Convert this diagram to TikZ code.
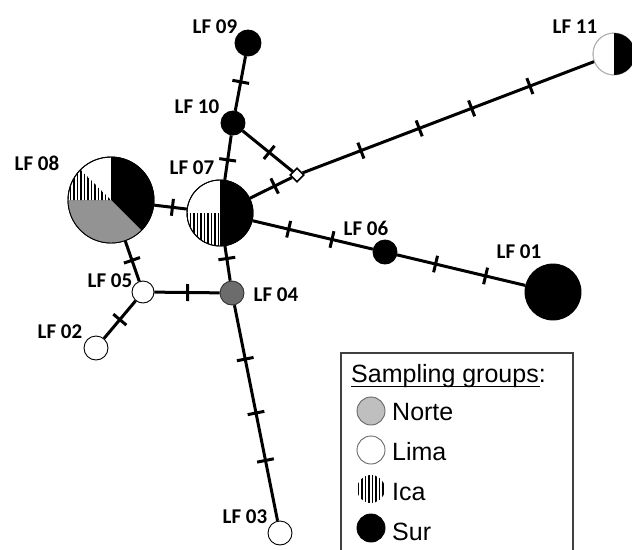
\documentclass[tikz,border=0pt]{standalone}
\usepackage{fontspec}
\setmainfont{Liberation Sans}
\newfontfamily\lblfont{Carlito}
\usetikzlibrary{shapes.geometric}
\begin{document}
\begin{tikzpicture}[x=1pt,y=-1pt,
  hap/.style={circle, draw=black, line width=0.9pt, inner sep=0pt, minimum size=#1},
  lbl/.style={font=\lblfont\bfseries\fontsize{21}{24}\selectfont, inner sep=0pt},
  edge/.style={line width=3pt},
  tk/.style={sloped, rectangle, fill=black, draw=none, inner sep=0pt, minimum width=3pt, minimum height=17pt},
  leg/.style={font=\fontsize{25}{30}\selectfont, inner sep=0pt, anchor=base west},
  hatch/.style={line width=1.3pt}
]
\useasboundingbox (0,0) rectangle (632,549);

% haplotype nodes
\node[hap=26pt, fill=black] (lf09) at (248,43) {};
\node[hap=24pt, fill=black] (lf10) at (233,123) {};
\node[hap=66pt, fill=white] (lf07) at (220,213) {};
\node[hap=86pt, fill=white] (lf08) at (111,200) {};
\node[hap=22pt, fill=white] (lf05) at (143,292) {};
\node[hap=24pt, fill=gray!85!black, draw=gray!40!black] (lf04) at (232,293) {};
\node[hap=24pt, fill=white] (lf02) at (96,348) {};
\node[hap=24pt, fill=white] (lf03) at (280,533) {};
\node[hap=24pt, fill=black] (lf06) at (385,252) {};
\node[hap=56pt, fill=black] (lf01) at (553,292) {};
\node[hap=42pt, fill=white, draw=gray!60] (lf11) at (614,54) {};
\node[diamond, draw=black, fill=white, line width=1.6pt, inner sep=0pt, minimum size=14pt] (mv) at (297,175) {};

% LF 08 pie
\begin{scope}[shift={(111,200)}]
  \fill[black] (0,0) -- (-90:43) arc[start angle=-90, end angle=45, radius=43] -- cycle;
  \fill[gray!85] (0,0) -- (45:43) arc[start angle=45, end angle=180, radius=43] -- cycle;
  \begin{scope}
    \clip (0,0) -- (180:43) arc[start angle=180, end angle=225, radius=43] -- cycle;
    \foreach \x in {-44,-40.5,...,0} \draw[hatch] (\x,-45) -- (\x,45);
  \end{scope}
  \draw[line width=0.9pt] (0,0) circle[radius=43];
\end{scope}

% LF 07 pie
\begin{scope}[shift={(220,213)}]
  \fill[black] (0,0) -- (-90:33) arc[start angle=-90, end angle=90, radius=33] -- cycle;
  \begin{scope}
    \clip (0,0) -- (90:33) arc[start angle=90, end angle=180, radius=33] -- cycle;
    \foreach \x in {-33,-29.5,...,0} \draw[hatch] (\x,-35) -- (\x,35);
  \end{scope}
  \draw[line width=0.9pt] (0,0) circle[radius=33];
\end{scope}

% LF 11 pie
\begin{scope}[shift={(614,54)}]
  \fill[black] (0,0) -- (-90:21) arc[start angle=-90, end angle=90, radius=21] -- cycle;
  \draw[line width=0.9pt, gray!60] (0,-21) arc[start angle=-90, end angle=-270, radius=21];
\end{scope}

% edges with mutation ticks
\draw[edge] (lf09) -- (lf10) node[tk, pos=0.47] {};
\draw[edge] (lf10) -- (lf07) node[tk, pos=0.55] {};
\draw[edge] (lf10) -- (mv) node[tk, pos=0.53] {};
\draw[edge] (lf07) -- (mv) node[tk, pos=0.59] {};
\draw[edge] (mv) -- (lf11)
  node[tk, pos=0.20] {} node[tk, pos=0.40] {} node[tk, pos=0.58] {} node[tk, pos=0.78] {};
\draw[edge] (lf07) -- (lf06) node[tk, pos=0.30] {} node[tk, pos=0.66] {};
\draw[edge] (lf06) -- (lf01) node[tk, pos=0.30] {} node[tk, pos=0.69] {};
\draw[edge] (lf07) -- (lf04) node[tk, pos=0.36] {};
\draw[edge] (lf04) -- (lf05) node[tk, pos=0.49] {};
\draw[edge] (lf05) -- (lf02) node[tk, pos=0.50] {};
\draw[edge] (lf08) -- (lf05) node[tk, pos=0.48] {};
\draw[edge] (lf08) -- (lf07) node[tk, pos=0.56] {};
\draw[edge] (lf04) -- (lf03) node[tk, pos=0.25] {} node[tk, pos=0.50] {} node[tk, pos=0.72] {};

% labels
\node[lbl] (t09) at (215,27) {LF 09};
\node[lbl] (t10) at (197,107) {LF 10};
\node[lbl] (t07) at (192,168) {LF 07};
\node[lbl] (t08) at (37,163) {LF 08};
\node[lbl] (t05) at (110,281) {LF 05};
\node[lbl] (t04) at (276,295) {LF 04};
\node[lbl] (t02) at (60,332) {LF 02};
\node[lbl] (t03) at (245,517) {LF 03};
\node[lbl] (t06) at (366,228) {LF 06};
\node[lbl] (t01) at (519,252) {LF 01};
\node[lbl] (t11) at (575,27) {LF 11};

% legend
\draw[line width=1.3pt, gray!50!black] (341,552) -- (341,353) -- (573,353) -- (573,552);
\node[leg] (ltitle) at (351,382) {Sampling groups:};
\draw[line width=1.8pt] (351,386.5) -- (540,386.5);
\node[hap=28pt, fill=gray!50, draw=gray!80!black] (cn) at (371,411) {};
\node[hap=28pt, fill=white, draw=gray!80!black] (cl) at (371,450) {};
\node[hap=28pt, draw=none] (ci) at (371,489) {};
\begin{scope}
  \clip (371,489) circle[radius=14];
  \foreach \x in {355,358.5,...,388} \draw[hatch] (\x,470) -- (\x,508);
\end{scope}
\node[hap=28pt, fill=black] (cs) at (371,528) {};
\node[leg] (ln) at (392,420) {Norte};
\node[leg] (ll) at (392,460) {Lima};
\node[leg] (li) at (392,500) {Ica};
\node[leg] (ls) at (392,540) {Sur};
\end{tikzpicture}
\end{document}
